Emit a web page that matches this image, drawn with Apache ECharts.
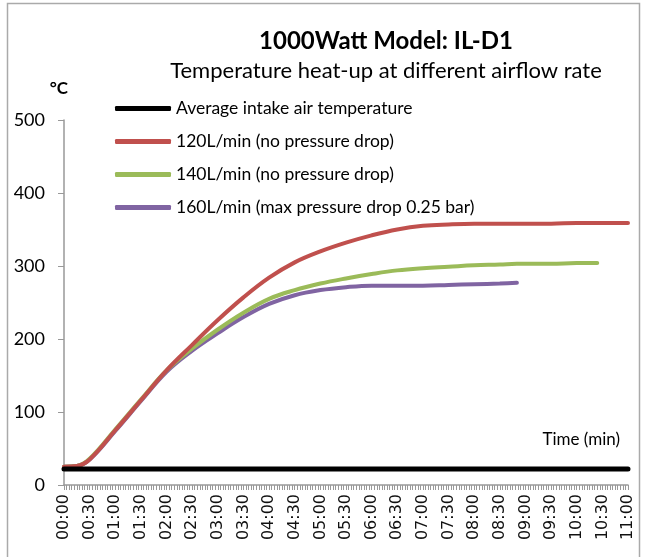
<!DOCTYPE html>
<html>
<head>
<meta charset="utf-8">
<script src="https://cdn.jsdelivr.net/npm/echarts@6/dist/echarts.min.js"></script>
<style>
html,body{margin:0;padding:0;background:#fff;}
#chart{width:646px;height:557px;}
</style>
</head>
<body>
<div id="chart"></div>
<script>
// time in seconds
var timeSec = [0,15,30,60,90,120,150,180,210,240,270,300,330,360,390,420,450,480,510,530,540,570,600,624,630,660];
var intakeAir = [22,22,22,22,22,22,22,22,22,22,22,22,22,22,22,22,22,22,22,22,22,22,22,22,22,22];
var flow120 = [25,26,35,75,116,157,192,226,257,284,305,320,332,342,350,355,357,358,358,358,358,358,359,359,359,359];
var flow140 = [25,26,36,76,117,157,187,213,236,255,267,276,283,289,294,297,299,301,302,303,303,303,304,304,null,null];
var flow160 = [25,26,35,74,115,155,184,208,230,248,260,267,271,273,273,273,274,275,276,277,null,null,null,null,null,null];
var seriesNames = ['Average intake air temperature','120L/min (no pressure drop)','140L/min (no pressure drop)','160L/min (max pressure drop 0.25 bar)'];
var yTicks = [0,100,200,300,400,500];

function pairs(vals){
  var out=[];
  for(var i=0;i<timeSec.length;i++){ if(vals[i]!==null) out.push([timeSec[i],vals[i]]); }
  return out;
}
function fmt(v){
  var m=Math.floor(v/60), s=v%60;
  return (m<10?'0':'')+m+':'+(s<10?'0':'')+s;
}
var FONT='Lato';
var chart = echarts.init(document.getElementById('chart'));
var colors=['#000000','#C0504D','#9BBB59','#8064A2'];
var widths=[5,4,4,4];
var data=[intakeAir,flow120,flow140,flow160];
var series=[];
for(var k=0;k<4;k++){
  series.push({
    name:seriesNames[k], type:'line', data:pairs(data[k]), showSymbol:false, smooth:0.4,
    lineStyle:{color:colors[k],width:widths[k],cap:'round'}, itemStyle:{color:colors[k]}, z:10-k
  });
}
chart.setOption({
  animation:false,
  backgroundColor:'#fff',
  grid:{left:64,right:18,top:120,bottom:72,containLabel:false},
  legend:{
    orient:'vertical', left:110, top:93, icon:'roundRect', itemWidth:56, itemHeight:5, itemGap:12,
    textStyle:{fontFamily:FONT,fontSize:17.5,color:'#000',lineHeight:21},
    data:seriesNames
  },
  xAxis:{
    type:'value', min:0, max:660, interval:30,
    axisLine:{show:true,lineStyle:{color:'#999',width:1.5}},
    axisTick:{show:true,length:5,lineStyle:{color:'#999'}},
    minorTick:{show:true,splitNumber:10,length:5,lineStyle:{color:'#999'}},
    splitLine:{show:false},
    axisLabel:{rotate:90,margin:9,formatter:fmt,fontFamily:'DejaVu Sans',fontSize:16,color:'#111'}
  },
  yAxis:{
    type:'value', min:0, max:500, interval:100,
    name:'°C', nameLocation:'end', nameGap:23,
    nameTextStyle:{fontFamily:FONT,fontSize:17,fontWeight:'bold',color:'#000',align:'right',padding:[0,-4,0,0]},
    axisLine:{show:true,lineStyle:{color:'#999',width:1.5}},
    axisTick:{show:true,length:6,inside:false,lineStyle:{color:'#999'}},
    splitLine:{show:false},
    axisLabel:{margin:19,fontFamily:FONT,fontSize:18,color:'#000',
      formatter:function(v){return yTicks.indexOf(v)>=0?String(v):'';}}
  },
  graphic:[
    {type:'rect',shape:{x:7.5,y:3.5,width:632,height:560},style:{fill:null,stroke:'#aaa',lineWidth:1.5},silent:true},
    {type:'text',x:386,y:41,style:{text:'1000Watt Model: IL-D1',font:'bold 24px Lato',fill:'#000',textAlign:'center',textVerticalAlign:'middle'}},
    {type:'text',x:386,y:71,style:{text:'Temperature heat-up at different airflow rate',font:'22px Lato',fill:'#000',textAlign:'center',textVerticalAlign:'middle'}},
    {type:'text',x:620,y:440,style:{text:'Time (min)',font:'17px Lato',fill:'#000',textAlign:'right',textVerticalAlign:'middle'}}
  ],
  series:series
});
</script>
</body>
</html>
